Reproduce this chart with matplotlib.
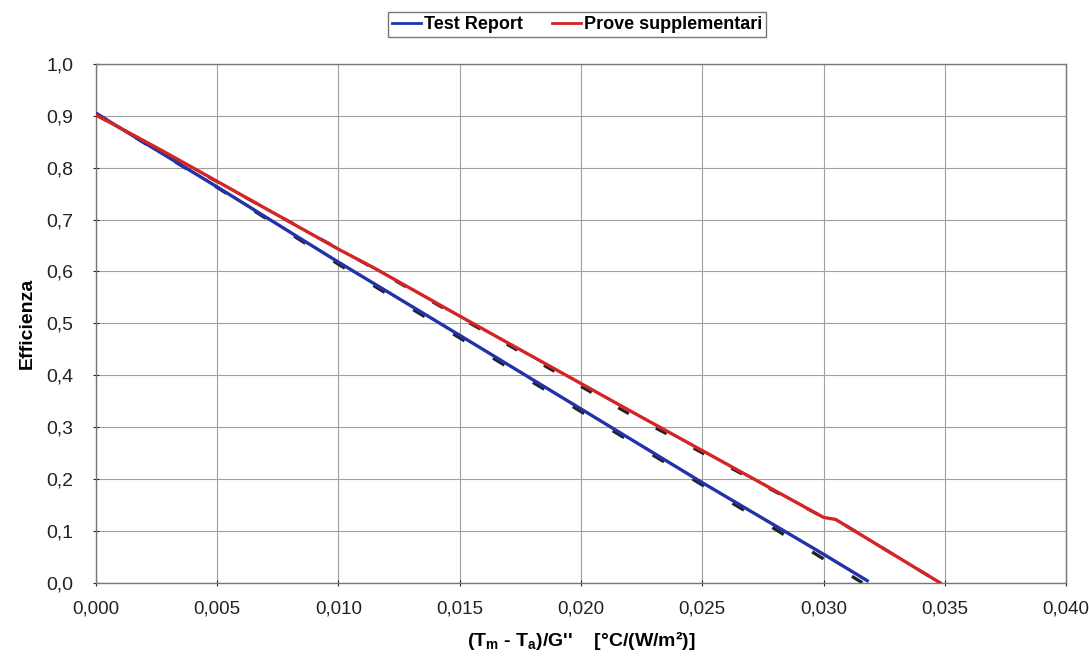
import matplotlib.pyplot as plt
from matplotlib.ticker import FuncFormatter

plt.rcParams["font.family"] = ["Liberation Sans", "DejaVu Sans"]
plt.rcParams["mathtext.fontset"] = "custom"
plt.rcParams["mathtext.rm"] = "Liberation Sans"
plt.rcParams["mathtext.bf"] = "Liberation Sans:bold"

# measured curves
blue_x = [0.0, 0.005, 0.010, 0.015, 0.020, 0.025, 0.030, 0.0318]
blue_y = [0.905, 0.763, 0.618, 0.477, 0.335, 0.193, 0.055, 0.004]

red_x = [0.0, 0.003, 0.010, 0.0115, 0.015, 0.022, 0.0300, 0.0305, 0.0348]
red_y = [0.902, 0.826, 0.643, 0.606, 0.514, 0.332, 0.126, 0.122, 0.0]

# black dashed fits
fit_blue_x = [0.0, 0.005, 0.010, 0.020, 0.027, 0.030, 0.0316]
fit_blue_y = [0.905, 0.762, 0.614, 0.330, 0.132, 0.046, 0.0]
fit_red_x = [0.0, 0.011, 0.022, 0.0300, 0.0305, 0.0348]
fit_red_y = [0.902, 0.618, 0.325, 0.126, 0.122, 0.0]

x_ticks = [0.000, 0.005, 0.010, 0.015, 0.020, 0.025, 0.030, 0.035, 0.040]
y_ticks = [0.0, 0.1, 0.2, 0.3, 0.4, 0.5, 0.6, 0.7, 0.8, 0.9, 1.0]

fig = plt.figure(figsize=(10.89, 6.66), dpi=100)
ax = fig.add_axes([0.088, 0.125, 0.891, 0.779])

ax.plot(fit_blue_x, fit_blue_y, color="#222222", lw=2.4, dashes=(4, 10), zorder=2)
ax.plot(fit_red_x, fit_red_y, color="#222222", lw=2.2, dashes=(4, 10), zorder=2)
ax.plot(blue_x, blue_y, color="#2233aa", lw=2.4, label="Test Report", zorder=3)
ax.plot(red_x, red_y, color="#d42424", lw=2.4, label="Prove supplementari", zorder=4)

ax.set_xlim(0, 0.040)
ax.set_ylim(0, 1.0)
ax.set_xticks(x_ticks)
ax.set_yticks(y_ticks)
ax.xaxis.set_major_formatter(FuncFormatter(lambda v, p: f"{v:.3f}".replace(".", ",")))
ax.yaxis.set_major_formatter(FuncFormatter(lambda v, p: f"{v:.1f}".replace(".", ",")))
ax.tick_params(labelsize=14, colors="#222222", length=4, direction="inout")
ax.tick_params(axis="x", pad=11, labelsize=13.5)
ax.tick_params(axis="y", pad=14)
ax.grid(True, color="#a0a0a0", lw=0.8)
for s in ax.spines.values():
    s.set_color("#777777")
    s.set_linewidth(1.0)

ax.set_xlabel(r"(T$\mathbf{_m}$ - T$\mathbf{_a}$)/G''    [°C/(W/m²)]",
              fontsize=14, fontweight="bold", labelpad=8)
ax.set_ylabel("Efficienza", fontsize=14, fontweight="bold", labelpad=8)

leg = fig.legend(loc="upper center", bbox_to_anchor=(0.53, 0.995), ncol=2,
                 frameon=True, fancybox=False, edgecolor="#555555",
                 prop={"weight": "bold", "size": 13}, handlelength=1.6,
                 handletextpad=0.2, columnspacing=1.6, borderpad=0.2)
for line in leg.get_lines():
    line.set_linewidth(2.0)

fig.savefig("out.png", dpi=100)
